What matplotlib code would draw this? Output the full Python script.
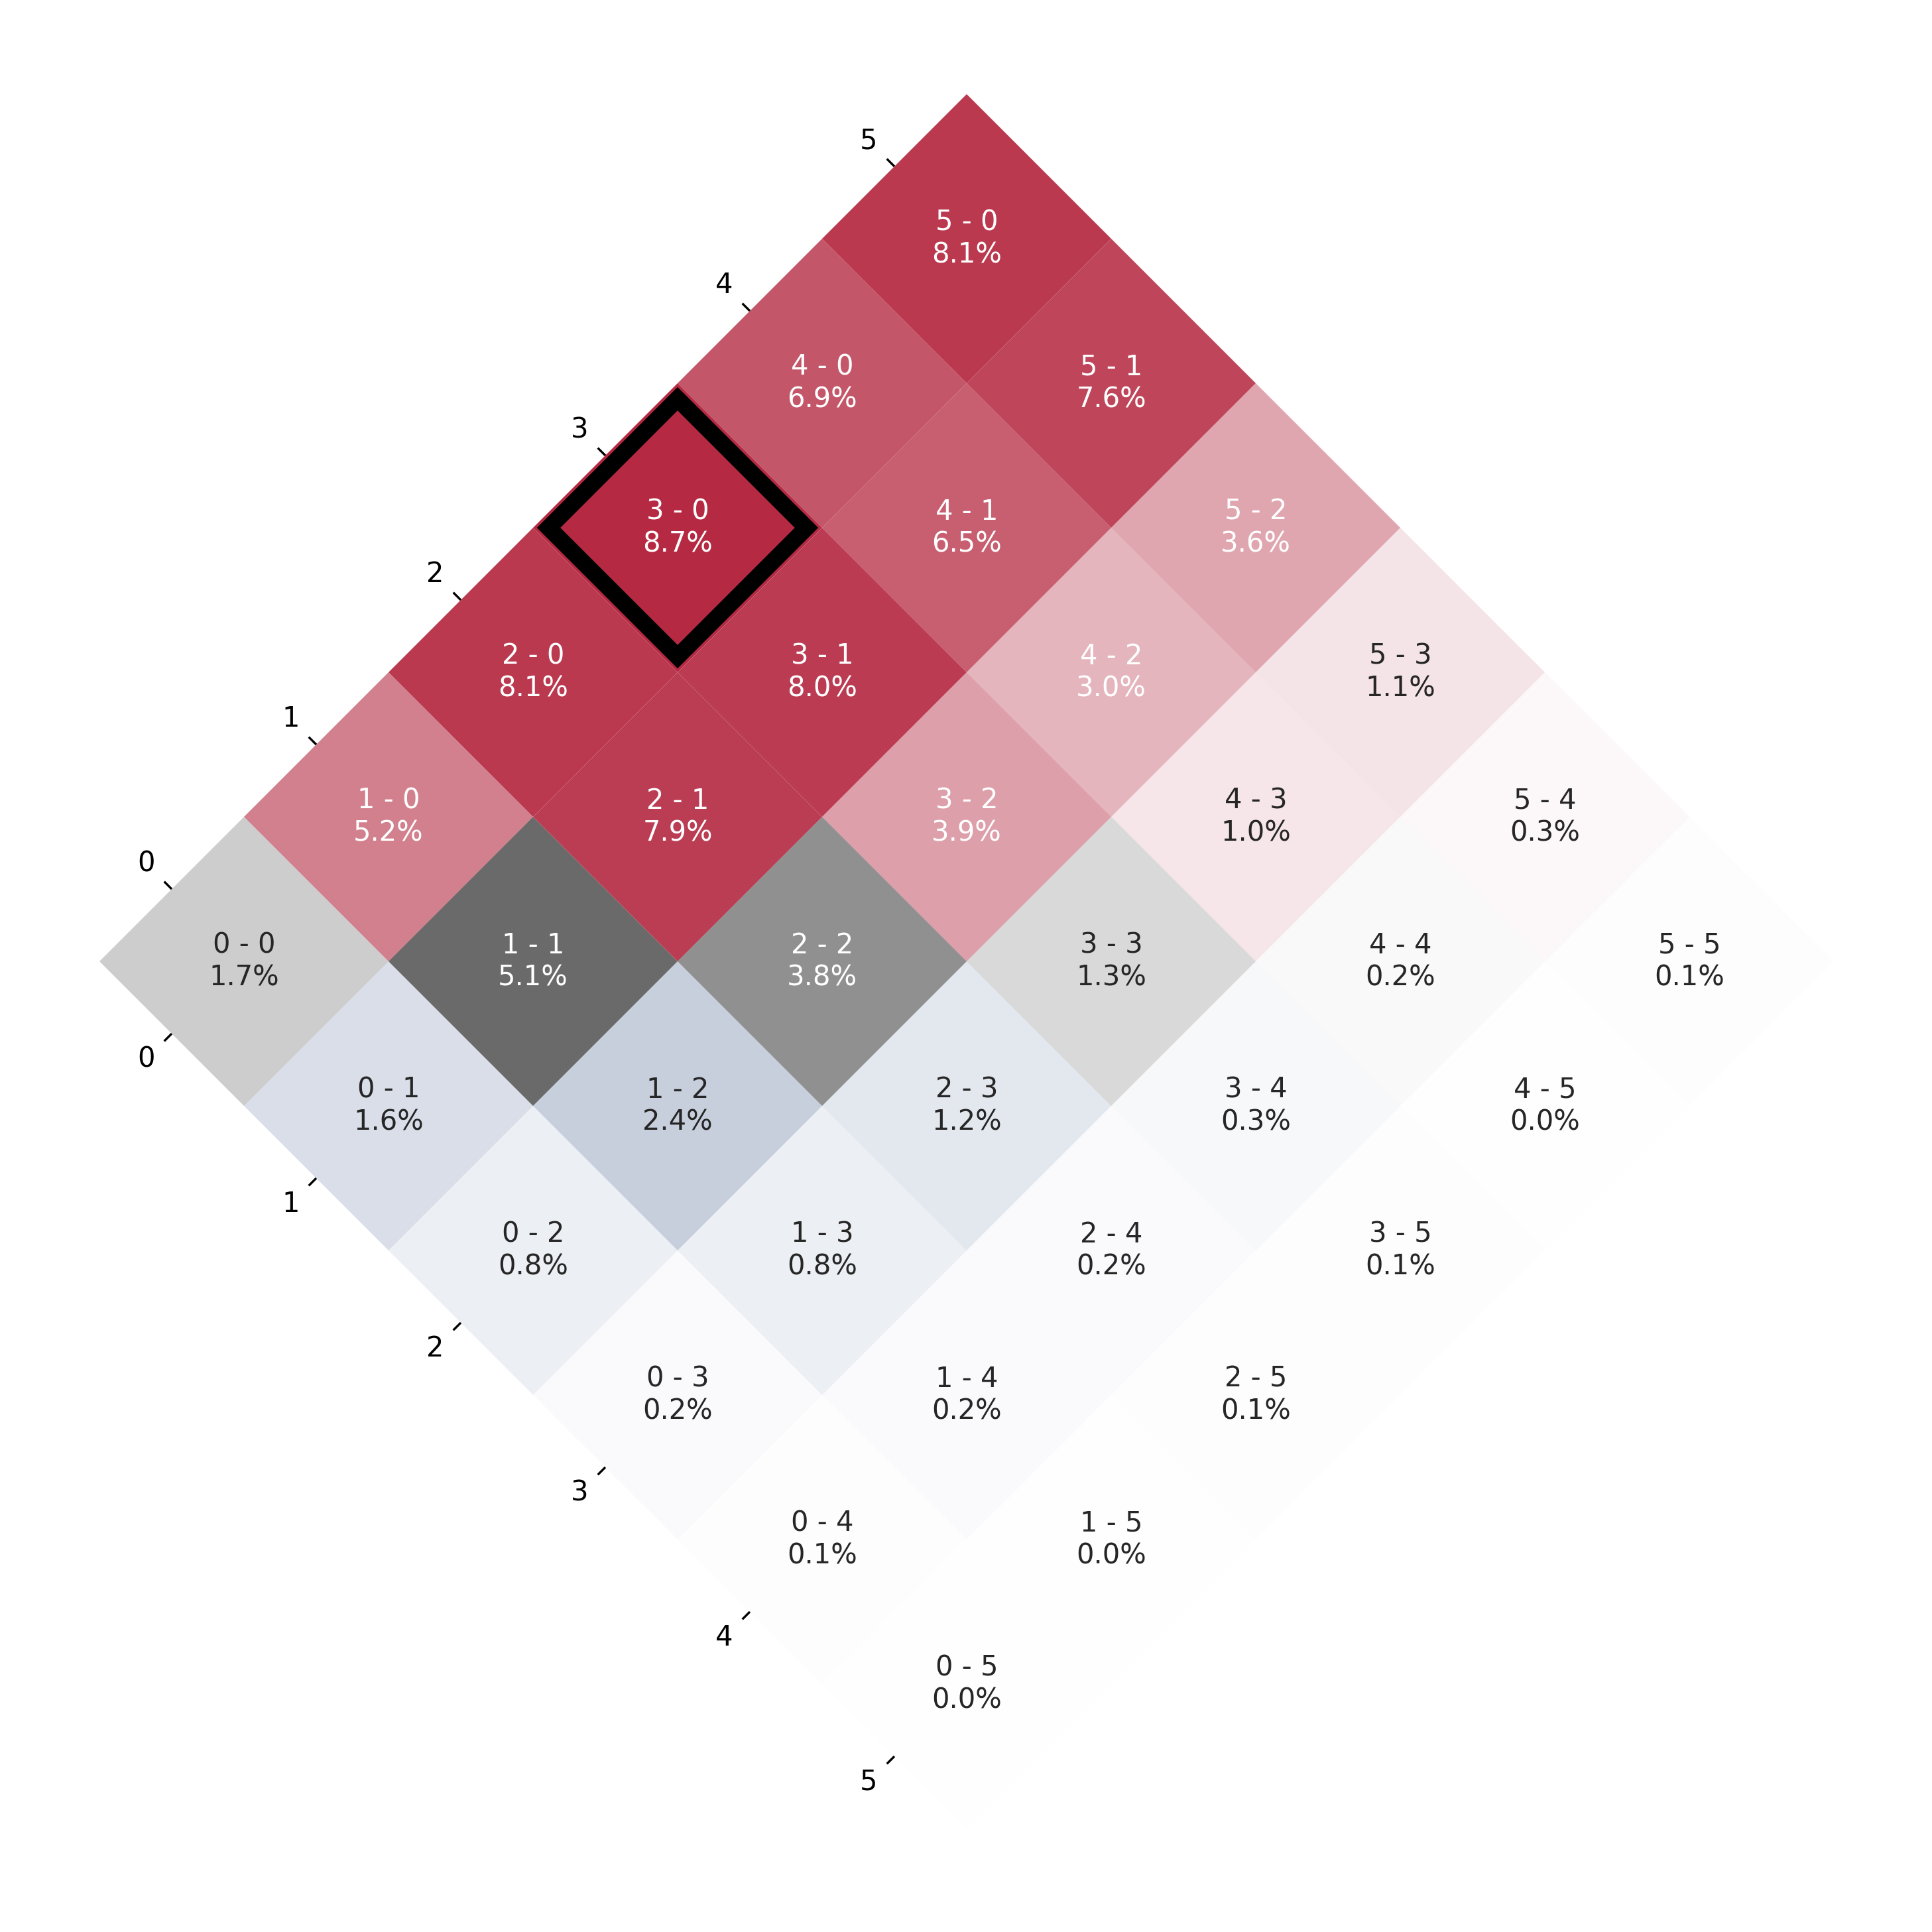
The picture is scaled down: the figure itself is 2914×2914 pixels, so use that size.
import matplotlib
matplotlib.use("Agg")
import matplotlib.pyplot as plt
import numpy as np
from matplotlib.patches import Rectangle
from matplotlib.transforms import Affine2D
from matplotlib.colors import to_rgb

goals = [0, 1, 2, 3, 4, 5]

# score probabilities in %, one list per home score, index = away score
# (the tiny ones are estimated from how faint their cells are)
home_0 = [1.7, 1.6, 0.8, 0.2, 0.06, 0.02]
home_1 = [5.2, 5.1, 2.4, 0.8, 0.2, 0.02]
home_2 = [8.1, 7.9, 3.8, 1.2, 0.2, 0.06]
home_3 = [8.7, 8.0, 3.9, 1.3, 0.3, 0.06]
home_4 = [6.9, 6.5, 3.0, 1.0, 0.2, 0.02]
home_5 = [8.1, 7.6, 3.6, 1.1, 0.3, 0.06]
probs = np.array([home_0, home_1, home_2, home_3, home_4, home_5])

home_color = to_rgb("#b52a42")
draw_color = to_rgb("#000000")
away_color = to_rgb("#345186")

DPI = 300
W = 2914
fig = plt.figure(figsize=(W / DPI, W / DPI), dpi=DPI)
ax = fig.add_axes([0, 0, 1, 1])
ax.axis("off")

# grid is turned by -45 degrees: away goals run down-right, home goals up-right
rot = Affine2D().rotate_deg(-45)
tr = rot + ax.transData

px = 308.3                      # pixels per cell side
cx, cy = 1458, W - 1450         # pixel position of the grid centre
mid = rot.transform([2.5, 2.5])
x0 = mid[0] - cx / px
y0 = mid[1] - cy / px
ax.set_xlim(x0, x0 + W / px)
ax.set_ylim(y0, y0 + W / px)

pmax = probs.max()
for i in goals:
    for j in goals:
        p = probs[i, j]
        a = p / pmax
        if i > j:
            base = home_color
        elif i == j:
            base = draw_color
        else:
            base = away_color
        ax.add_patch(Rectangle((j - 0.5, i - 0.5), 1, 1, facecolor=(*base, a),
                               edgecolor="none", transform=tr, zorder=1))
        tc = "white" if a > 0.3 else "#262626"
        ax.text(j, i, f"{i} - {j}\n{p:.1f}%", transform=tr, ha="center",
                va="center", ma="center", fontsize=10, color=tc, zorder=4)

# highlight the most likely score
bi, bj = np.unravel_index(np.argmax(probs), probs.shape)
inset = 0.054
ax.add_patch(Rectangle((bj - 0.5 + inset, bi - 0.5 + inset), 1 - 2 * inset, 1 - 2 * inset,
                       facecolor="none", edgecolor="black", linewidth=6,
                       joinstyle="miter", transform=tr, zorder=3))

# ticks along the two outer edges
tick_len = 0.052
lab_off = 0.178
for g in goals:
    ax.plot([-0.5, -0.5 - tick_len], [g, g], color="black", lw=0.8,
            transform=tr, solid_capstyle="butt", zorder=2)
    ax.text(-0.5 - lab_off, g, str(g), transform=tr, ha="center", va="center",
            fontsize=10, color="black")
    ax.plot([g, g], [-0.5, -0.5 - tick_len], color="black", lw=0.8,
            transform=tr, solid_capstyle="butt", zorder=2)
    ax.text(g, -0.5 - lab_off, str(g), transform=tr, ha="center", va="center",
            fontsize=10, color="black")

fig.savefig("out.png", dpi=DPI, facecolor="white")
